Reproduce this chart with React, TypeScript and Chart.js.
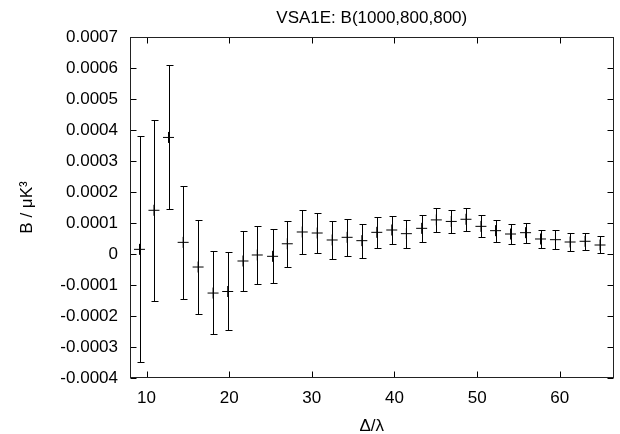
import React, { useEffect, useRef } from "react";
import { Chart, registerables } from "chart.js";

Chart.register(...registerables);

const chartTitle = "VSA1E: B(1000,800,800)";
const xAxisTitle = "Δ/λ";
const yAxisTitle = "B / μK³";

const xValues = [
  9.15, 10.9, 12.66, 14.43, 16.24, 18.05, 19.82, 21.67, 23.4, 25.25, 27.03,
  28.84, 30.65, 32.46, 34.27, 36.05, 37.86, 39.67, 41.44, 43.29, 45.06, 46.87,
  48.65, 50.46, 52.23, 54.04, 55.86, 57.67, 59.48, 61.25, 63.06, 64.87,
];

const yValues = [
  0.000015, 0.000141, 0.000376, 0.0000376, -0.000042, -0.000126, -0.000121,
  -0.0000226, -0.0000032, -0.0000075, 0.000033, 0.000071, 0.0000677,
  0.0000452, 0.0000538, 0.000043, 0.0000699, 0.0000774, 0.0000656, 0.0000828,
  0.00011, 0.000105, 0.000112, 0.0000892, 0.0000753, 0.0000645, 0.0000688,
  0.0000484, 0.0000462, 0.0000387, 0.000041, 0.000029,
];

const yLow = [
  -0.000349, -0.000151, 0.000144, -0.000144, -0.000194, -0.000259, -0.000246,
  -0.00012, -0.0000968, -0.0000946, -0.000043, 0.0, 0.0000043, -0.000016,
  -0.0000054, -0.0000118, 0.0000204, 0.0000312, 0.0000204, 0.0000398, 0.00007,
  0.0000677, 0.0000742, 0.0000538, 0.0000398, 0.0000323, 0.0000355, 0.0000183,
  0.0000151, 0.0000097, 0.0000118, 0.0000022,
];

const yHigh = [
  0.000381, 0.000433, 0.00061, 0.000218, 0.000109, 0.0000086, 0.0000054,
  0.0000731, 0.00009, 0.00008, 0.000108, 0.000141, 0.000131, 0.000107,
  0.000114, 0.0000968, 0.000119, 0.000124, 0.000111, 0.000125, 0.000149,
  0.000143, 0.000149, 0.000125, 0.000109, 0.0000968, 0.0001, 0.0000785,
  0.0000763, 0.0000667, 0.0000677, 0.000057,
];

const xTickValues = [10, 20, 30, 40, 50, 60];
const xMin = 8;
const xMax = 66.5;
const yMin = -0.0004;
const yMax = 0.0007;
const yStep = 0.0001;

const FONT = "'Liberation Sans', Arial, Helvetica, sans-serif";
const TICK = 6;
const CAP = 3;

const framePlugin = {
  id: "frameTicks",
  afterDraw(chart: any) {
    const { ctx, chartArea: a, scales } = chart;
    const L = Math.round(a.left) + 0.5;
    const R = Math.round(a.right) - 0.5;
    const T = Math.round(a.top) + 0.5;
    const B = Math.round(a.bottom) - 0.5;
    ctx.save();
    ctx.strokeStyle = "#000";
    ctx.lineWidth = 1;
    ctx.beginPath();
    for (const t of scales.x.ticks) {
      const px = Math.round(scales.x.getPixelForValue(t.value)) + 0.5;
      ctx.moveTo(px, B);
      ctx.lineTo(px, B - TICK);
      ctx.moveTo(px, T);
      ctx.lineTo(px, T + TICK);
    }
    for (const t of scales.y.ticks) {
      const py = Math.round(scales.y.getPixelForValue(t.value)) + 0.5;
      ctx.moveTo(L, py);
      ctx.lineTo(L + TICK, py);
      ctx.moveTo(R, py);
      ctx.lineTo(R - TICK, py);
    }
    ctx.stroke();
    ctx.strokeStyle = "#222";
    ctx.strokeRect(L, T, R - L, B - T);
    ctx.restore();
  },
};

const errorBarPlugin = {
  id: "errorBars",
  afterDatasetsDraw(chart: any) {
    const { ctx, scales } = chart;
    ctx.save();
    ctx.strokeStyle = "#000";
    ctx.lineWidth = 1;
    ctx.beginPath();
    for (let i = 0; i < xValues.length; i++) {
      const px = Math.round(scales.x.getPixelForValue(xValues[i])) + 0.5;
      const pLo = Math.round(scales.y.getPixelForValue(yLow[i])) + 0.5;
      const pHi = Math.round(scales.y.getPixelForValue(yHigh[i])) + 0.5;
      ctx.moveTo(px, pLo);
      ctx.lineTo(px, pHi);
      ctx.moveTo(px - CAP, pLo);
      ctx.lineTo(px + CAP + 1, pLo);
      ctx.moveTo(px - CAP, pHi);
      ctx.lineTo(px + CAP + 1, pHi);
    }
    ctx.stroke();
    ctx.restore();
  },
};

export default function App() {
  const ref = useRef<HTMLCanvasElement | null>(null);

  useEffect(() => {
    document.body.style.margin = "0";
    const canvas = ref.current;
    if (!canvas) return;
    Chart.defaults.font.family = FONT;
    Chart.defaults.font.size = 17;
    Chart.defaults.color = "#000";

    const chart = new Chart(canvas, {
      type: "scatter",
      data: {
        datasets: [
          {
            data: xValues.map((x, i) => ({ x, y: yValues[i] })),
            pointStyle: "cross",
            pointRadius: 5.5,
            borderColor: "#000",
            backgroundColor: "#000",
            borderWidth: 1,
            showLine: false,
          },
        ],
      },
      options: {
        animation: false,
        responsive: false,
        devicePixelRatio: 1,
        layout: { padding: { top: 0, right: 6, bottom: 0, left: 0 } },
        plugins: {
          legend: { display: false },
          tooltip: { enabled: false },
          title: {
            display: true,
            text: chartTitle,
            fullSize: false,
            color: "#000",
            font: { family: FONT, size: 17, weight: "normal" },
            padding: { top: 8, bottom: 8.6 },
          },
        },
        scales: {
          x: {
            type: "linear",
            min: xMin,
            max: xMax,
            grid: { display: false, drawTicks: false },
            border: { display: false },
            afterBuildTicks: (scale: any) => {
              scale.ticks = xTickValues.map((v) => ({ value: v }));
            },
            afterFit: (scale: any) => {
              scale.height = 56;
            },
            ticks: {
              autoSkip: false,
              padding: 10,
              maxRotation: 0,
              color: "#000",
              font: { family: FONT, size: 17 },
            },
            title: {
              display: true,
              text: xAxisTitle,
              color: "#000",
              font: { family: FONT, size: 17, lineHeight: 0.85 },
              padding: { top: 0, bottom: 0 },
            },
          },
          y: {
            type: "linear",
            min: yMin,
            max: yMax,
            grid: { display: false, drawTicks: false },
            border: { display: false },
            afterFit: (scale: any) => {
              scale.width = 130;
            },
            ticks: {
              stepSize: yStep,
              padding: 12,
              color: "#000",
              font: { family: FONT, size: 17 },
              callback: (v: any) => Number(Number(v).toFixed(4)).toString(),
            },
            title: {
              display: true,
              text: yAxisTitle,
              color: "#000",
              font: { family: FONT, size: 17 },
              padding: { top: 17, bottom: 0 },
            },
          },
        },
      },
      plugins: [framePlugin, errorBarPlugin],
    });
    return () => chart.destroy();
  }, []);

  return (
    <canvas
      ref={ref}
      width={620}
      height={434}
      style={{ display: "block", width: 620, height: 434 }}
    />
  );
}
